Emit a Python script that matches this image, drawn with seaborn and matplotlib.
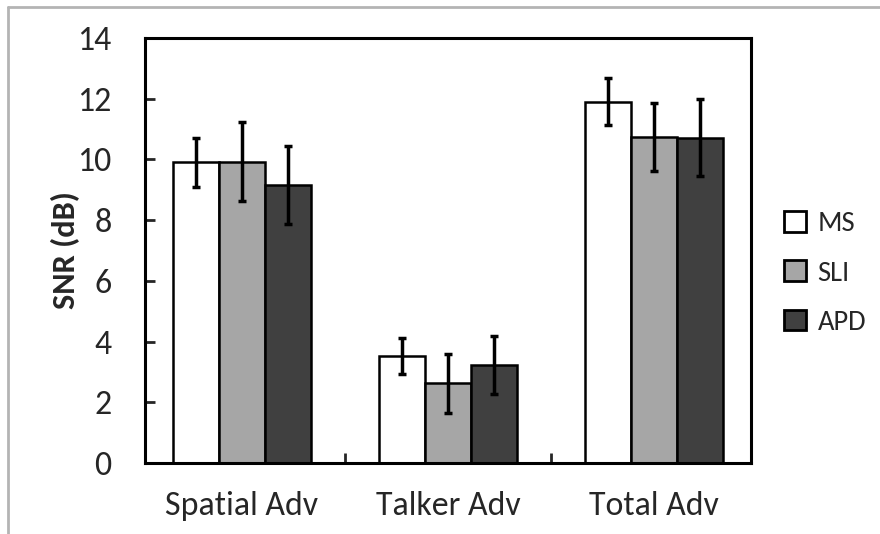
import numpy as np
import pandas as pd
import seaborn as sns
import matplotlib
matplotlib.use("Agg")
import matplotlib.pyplot as plt
from matplotlib import font_manager
from matplotlib.patches import Patch
from matplotlib.lines import Line2D

# ---- data ----
categories = ["Spatial Adv", "Talker Adv", "Total Adv"]
groups = ["MS", "SLI", "APD"]
ms_vals = [9.90, 3.53, 11.90]
sli_vals = [9.92, 2.62, 10.74]
apd_vals = [9.16, 3.22, 10.72]
ms_err = [0.80, 0.60, 0.77]
sli_err = [1.30, 0.96, 1.12]
apd_err = [1.29, 0.96, 1.27]
yticks = [0, 2, 4, 6, 8, 10, 12, 14]

colors = {"MS": "#ffffff", "SLI": "#a6a6a6", "APD": "#404040"}

sns.set_theme(style="white")
names = {f.name for f in font_manager.fontManager.ttflist}
if "Carlito" in names:
    fam, k = "Carlito", 1.11
else:
    fam, k = "Lato", 1.0
plt.rcParams["font.family"] = [fam, "DejaVu Sans"]

rows = []
for g, vals, errs in zip(groups, [ms_vals, sli_vals, apd_vals], [ms_err, sli_err, apd_err]):
    for c, v, e in zip(categories, vals, errs):
        rows.append({"cat": c, "grp": g, "val": v, "err": e})
df = pd.DataFrame(rows)

FS = 22 * k
LFS = 18.5 * k

fig = plt.figure(figsize=(8.8, 5.34), dpi=100)
ax = fig.add_axes([145/880, 1-463/534, (751-145)/880, (463-38)/534])

sns.barplot(data=df, x="cat", y="val", hue="grp", order=categories, hue_order=groups,
            palette=colors, width=0.67, gap=0, errorbar=None, edgecolor="black",
            linewidth=1.8, ax=ax, legend=False, saturation=1)

for cont, g in zip(ax.containers, groups):
    sub = df[df.grp == g].set_index("cat").loc[categories]
    xs = [b.get_x() + b.get_width()/2 for b in cont]
    ax.errorbar(xs, sub["val"].values, yerr=sub["err"].values, fmt="none",
                ecolor="black", elinewidth=2.5, capsize=3, capthick=2.5, zorder=5)

ax.set_ylim(0, 14)
ax.set_yticks(yticks)
ax.set_yticklabels([str(t) for t in yticks], fontsize=FS)
ax.set_xticks(range(len(categories)))
ax.set_xticklabels(categories, fontsize=FS)
ax.set_xticks([0.5, 1.5], minor=True)
ax.tick_params(axis="x", which="major", length=0, pad=20)
ax.tick_params(axis="x", which="minor", direction="in", length=7, width=2, bottom=True)
ax.tick_params(axis="y", which="major", direction="in", length=7, width=2, left=True, pad=24)
ax.set_xlabel("")
ax.set_ylabel("SNR (dB)", fontsize=21 * k, fontweight="bold", labelpad=-2)
for s in ax.spines.values():
    s.set_visible(True)
    s.set_color("black")
    s.set_linewidth(2.2)

handles = [Patch(facecolor=colors[g], edgecolor="black", linewidth=2) for g in groups]
fig.legend(handles, groups, loc="center left", bbox_to_anchor=(784/880, 1-273/534),
           bbox_transform=fig.transFigure, frameon=False, fontsize=LFS,
           handlelength=0.78, handleheight=0.73, handletextpad=0.4,
           labelspacing=0.84, borderpad=0, borderaxespad=0)

fig.add_artist(Line2D([8/880, 8/880], [0, 1-7/534], color="#b4b4b4", lw=2,
                      transform=fig.transFigure))
fig.add_artist(Line2D([8/880, 1], [1-7/534, 1-7/534], color="#b4b4b4", lw=2,
                      transform=fig.transFigure))

fig.savefig("out.png", dpi=100)
